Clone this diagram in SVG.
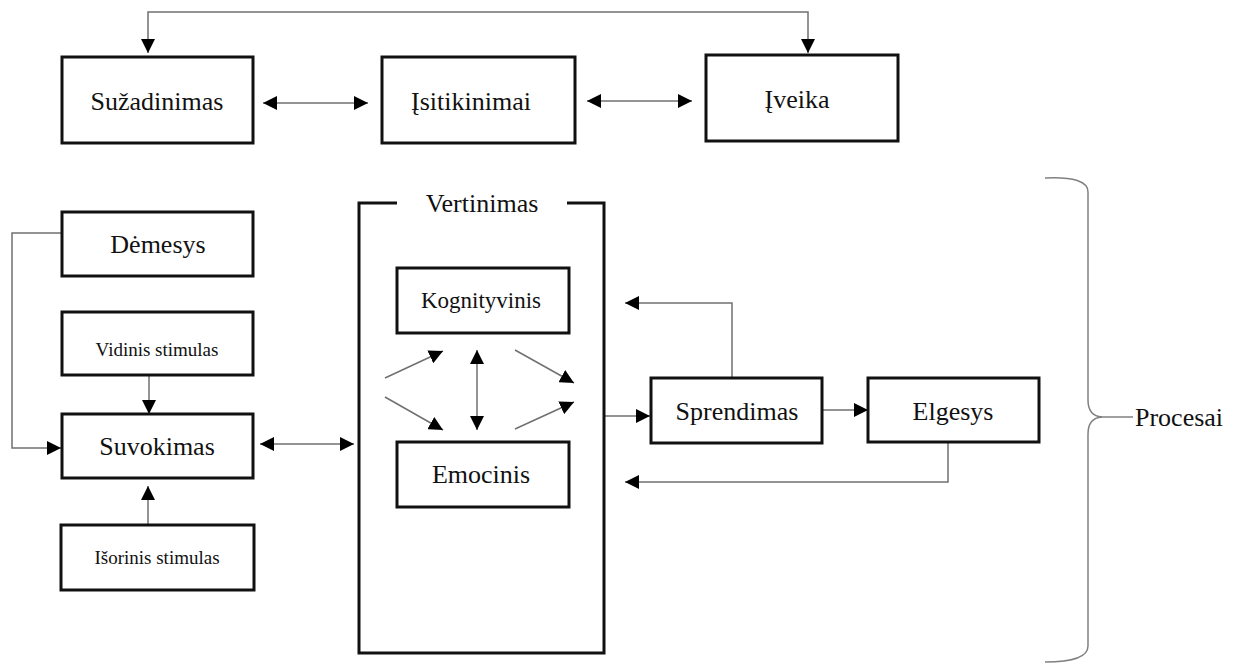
<svg xmlns="http://www.w3.org/2000/svg" width="1241" height="666" viewBox="0 0 1241 666">
<style>
.box{fill:#fff;stroke:#111;stroke-width:3}
.t{font-family:"Liberation Serif","Times New Roman",serif;fill:#111;text-anchor:middle}
.big{font-size:26px}
.mid{font-size:23px}
.small{font-size:19px}
.c{fill:none;stroke:#707070;stroke-width:1.5}
.arr{marker-end:url(#ah)}
.dbl{marker-start:url(#ah);marker-end:url(#ah)}
</style>
<defs>
<marker id="ah" markerUnits="userSpaceOnUse" markerWidth="14" markerHeight="14" refX="14" refY="7" orient="auto-start-reverse" viewBox="0 0 14 14">
<path d="M0,0 L14,7 L0,14 z" fill="#000"/>
</marker>
</defs>
<rect width="1241" height="666" fill="#fff"/>

<g id="connectors">
<path class="c dbl" d="M148,53 V12 H808 V53"/>
<path class="c dbl" d="M263,103 H368"/>
<path class="c dbl" d="M587,101 H692"/>
<path class="c arr" d="M61,233 H12 V448 H61"/>
<path class="c arr" d="M149,375 V414"/>
<path class="c arr" d="M148,530 V486"/>
<path class="c dbl" d="M260,444 H354"/>
<path class="c arr" d="M385,378 L443,351"/>
<path class="c arr" d="M385,397 L443,430"/>
<path class="c dbl" d="M477,350 V430"/>
<path class="c arr" d="M515,350 L574,383"/>
<path class="c arr" d="M515,429 L574,402"/>
<path class="c arr" d="M604,416 H650"/>
<path class="c arr" d="M822,410 H868"/>
<path class="c arr" d="M732,378 V303 H625"/>
<path class="c arr" d="M948,442 V482 H625"/>
</g>

<g id="suzadinimas"><rect class="box" x="62" y="57" width="191" height="86"/><text class="t big" x="157" y="110">Sužadinimas</text></g>
<g id="isitikinimai"><rect class="box" x="382" y="57" width="193" height="86"/><text class="t big" x="471" y="110">Įsitikinimai</text></g>
<g id="iveika"><rect class="box" x="706" y="55" width="192" height="86"/><text class="t big" x="797" y="108">Įveika</text></g>

<g id="demesys"><rect class="box" x="62" y="212" width="191" height="64"/><text class="t big" x="158" y="253">Dėmesys</text></g>
<g id="vidinis"><rect class="box" x="62" y="312" width="191" height="63"/><text class="t small" x="157" y="356">Vidinis stimulas</text></g>
<g id="suvokimas"><rect class="box" x="62" y="414" width="191" height="64"/><text class="t big" x="157" y="455">Suvokimas</text></g>
<g id="isorinis"><rect class="box" x="61" y="525" width="193" height="65"/><text class="t small" x="157" y="564">Išorinis stimulas</text></g>

<g id="vertinimas"><path fill="none" stroke="#111" stroke-width="3" d="M397,203 H359 V653 H604 V203 H567"/><text class="t big" x="482" y="212">Vertinimas</text></g>
<g id="kognityvinis"><rect class="box" x="397" y="268" width="172" height="65"/><text class="t mid" x="481" y="308">Kognityvinis</text></g>
<g id="emocinis"><rect class="box" x="397" y="442" width="172" height="65"/><text class="t big" x="481" y="483">Emocinis</text></g>

<g id="sprendimas"><rect class="box" x="651" y="378" width="171" height="65"/><text class="t big" x="737" y="420">Sprendimas</text></g>
<g id="elgesys"><rect class="box" x="868" y="378" width="171" height="64"/><text class="t big" x="953" y="420">Elgesys</text></g>

<g id="procesai">
<path fill="none" stroke="#808080" stroke-width="1.5" d="M1045,178 Q1088,176 1088,192 V400 Q1088,416 1102,417 Q1088,418 1088,434 V646 Q1088,662 1045,662"/>
<path fill="none" stroke="#808080" stroke-width="1.5" d="M1100,417 H1133"/>
<text class="t big" x="1135" y="426" style="text-anchor:start">Procesai</text>
</g>
</svg>
